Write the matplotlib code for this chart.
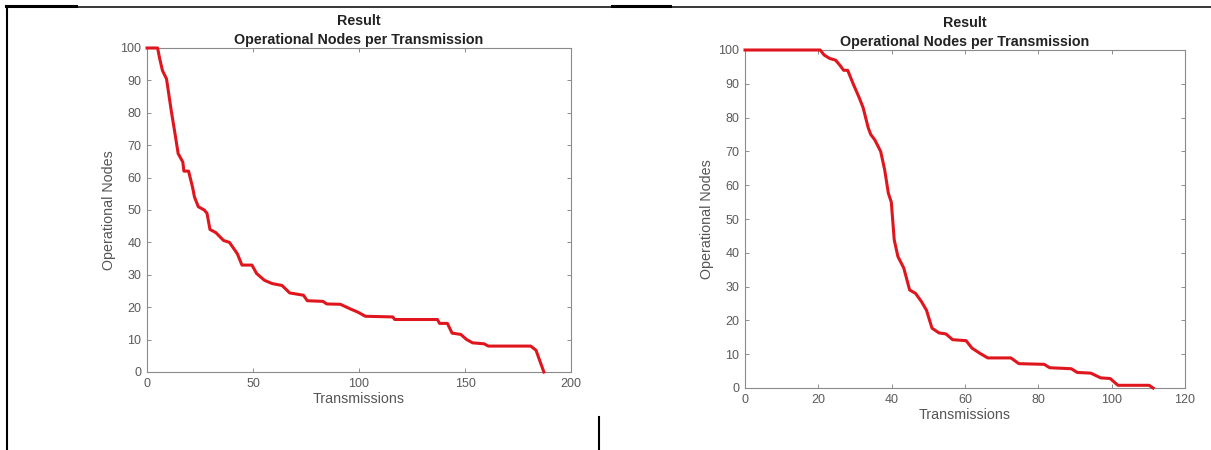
import matplotlib
matplotlib.use("Agg")
import matplotlib.pyplot as plt
from matplotlib.lines import Line2D

plt.rcParams['font.family'] = ['Liberation Sans', 'DejaVu Sans']

# left run: operational nodes vs transmissions
left_tx = [0, 5, 5.9, 7.3, 9.2, 11.4, 13.2, 14.7, 16.9, 17.4, 19.6, 21.5, 22.4, 24.2,
           27, 28.3, 29.7, 32.5, 36.1, 38.9, 42.6, 44.8, 49.5, 51.7, 55.4, 59, 63.7,
           67.3, 73.8, 75.6, 83, 84.8, 91.2, 95.8, 99.4, 103, 115.9, 116.9, 137, 138,
           141.7, 143.9, 148, 150.8, 153.6, 159, 161, 181, 183.5, 187.2]
left_nodes = [100, 100, 97, 93, 90.5, 80.8, 73.6, 67.4, 64.8, 62, 62, 57, 54, 51,
              50, 49, 44, 43, 40.6, 40, 36.5, 33, 33, 30.4, 28.3, 27.3, 26.7,
              24.4, 23.7, 22, 21.8, 21, 20.9, 19.5, 18.5, 17.2, 17, 16.2, 16.2, 15,
              15, 12, 11.6, 10, 9, 8.7, 8, 8, 6.7, 0]

# right run
right_tx = [0, 20.5, 21.6, 23.1, 24.7, 25.8, 26.9, 28, 29.5, 31.1, 32.2, 33.6, 34.3,
            35.4, 37, 38.1, 39.1, 39.9, 40.7, 41.7, 43.3, 44.9, 46.5, 48.1, 49.5, 51,
            52.9, 54.8, 56.6, 60.3, 61.9, 64, 66.2, 72.5, 74.7, 81.6, 83.1, 89, 90.6,
            94.3, 97, 99.6, 101.7, 110.2, 111.3]
right_nodes = [100, 100, 98.5, 97.5, 97, 95.6, 94, 94, 90, 86, 83, 77, 75,
               73.4, 70, 64.5, 57.6, 55, 43.8, 38.9, 35.5, 29, 28, 25.6, 23, 17.7,
               16.3, 16, 14.3, 14, 11.8, 10.3, 8.9, 8.9, 7.2, 7, 6, 5.7, 4.6,
               4.4, 3, 2.8, 0.8, 0.8, 0]

left_xticks = [0, 50, 100, 150, 200]
right_xticks = [0, 20, 40, 60, 80, 100, 120]
yticks = list(range(0, 101, 10))

W, H = 1211, 450
fig = plt.figure(figsize=(W / 100, H / 100), dpi=100)


def make_axes(rect, x, y, xlim, xticks):
    ax = fig.add_axes(rect)
    ax.plot(x, y, color='#e0161e', linewidth=2.2, clip_on=False, zorder=5)
    ax.set_xlim(xlim)
    ax.set_ylim(0, 100)
    ax.set_xticks(xticks)
    ax.set_yticks(yticks)
    ax.tick_params(direction='in', length=3, width=0.6, labelsize=9,
                   colors='#7a7a7a', labelcolor='#5a5a5a',
                   top=True, right=True, pad=4)
    for s in ax.spines.values():
        s.set_color('#8a8a8a')
        s.set_linewidth(0.8)
    ax.set_title('Result\nOperational Nodes per Transmission', fontsize=10.3,
                 fontweight='bold', color='#222222', pad=3, linespacing=1.45)
    ax.set_xlabel('Transmissions', fontsize=10.3, color='#555555', labelpad=2)
    ax.set_ylabel('Operational Nodes', fontsize=10.3, color='#555555', labelpad=3)
    return ax


make_axes([147 / W, 1 - 372 / H, 424 / W, 324 / H], left_tx, left_nodes, (0, 200), left_xticks)
make_axes([745 / W, 1 - 388 / H, 440 / W, 338 / H], right_tx, right_nodes, (0, 120), right_xticks)

# table borders around the two figures
def px_line(xs, ys, lw):
    fig.add_artist(Line2D([v / W for v in xs], [1 - v / H for v in ys],
                          transform=fig.transFigure, color='black', linewidth=lw))

px_line([6, W], [6.5, 6.5], 1.1)
px_line([6, 76], [5.5, 5.5], 2.2)
px_line([612, 670], [5.5, 5.5], 2.2)
px_line([6.5, 6.5], [6, H], 1.5)
px_line([599, 599], [417, H], 1.5)

fig.savefig('out.png', dpi=100)
